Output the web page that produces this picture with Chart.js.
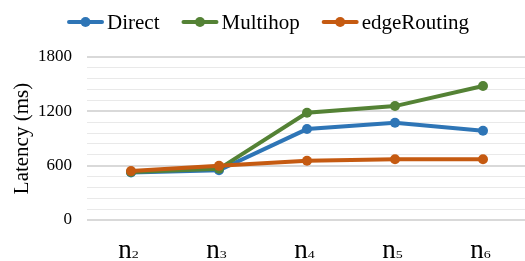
<!DOCTYPE html>
<html>
<head>
<meta charset="utf-8">
<script src="https://cdn.jsdelivr.net/npm/chart.js@4.4.1/dist/chart.umd.min.js"></script>
<style>
  html, body { margin: 0; padding: 0; background: #fff; overflow: hidden; }
  #wrap { width: 532px; height: 261px; }
</style>
</head>
<body>
<div id="wrap"><canvas id="latencyChart" width="532" height="261"></canvas></div>
<script>
// Data
const categories = ['n2', 'n3', 'n4', 'n5', 'n6'];
const directValues = [525, 550, 1004, 1074, 986];
const multihopValues = [530, 565, 1184, 1258, 1479];
const edgeRoutingValues = [540, 598, 655, 670, 670];
const yTicks = [0, 600, 1200, 1800];

const serif = '"Liberation Serif", "Times New Roman", serif';

// Legend drawn by hand so the line-with-dot markers match the original
const legendPlugin = {
    id: 'lineLegend',
    afterDraw(chart) {
        const ctx = chart.ctx;
        const sets = chart.data.datasets;
        const iconW = 37, gapText = 3, gapItem = 22, cy = 22;
        ctx.save();
        ctx.font = '21px ' + serif;
        const widths = sets.map(ds => iconW + gapText + ctx.measureText(ds.label).width);
        const total = widths.reduce((a, b) => a + b, 0) + gapItem * (sets.length - 1);
        let x = 268 - total / 2;
        sets.forEach((ds, i) => {
            ctx.strokeStyle = ds.borderColor;
            ctx.lineWidth = 4;
            ctx.lineCap = 'round';
            ctx.beginPath();
            ctx.moveTo(x + 2, cy);
            ctx.lineTo(x + iconW - 2, cy);
            ctx.stroke();
            ctx.fillStyle = ds.borderColor;
            ctx.beginPath();
            ctx.arc(x + iconW / 2, cy, 5, 0, Math.PI * 2);
            ctx.fill();
            ctx.fillStyle = '#000';
            ctx.textBaseline = 'middle';
            ctx.textAlign = 'left';
            ctx.fillText(ds.label, x + iconW + gapText, cy + 1);
            x += widths[i] + gapItem;
        });
        ctx.restore();
    }
};

// Category labels like n₂ : big "n" with a small squat subscript digit
const subLabelPlugin = {
    id: 'subLabels',
    afterDraw(chart) {
        const ctx = chart.ctx;
        const xScale = chart.scales.x;
        const baseY = 258;
        ctx.save();
        ctx.fillStyle = '#000';
        ctx.textBaseline = 'alphabetic';
        ctx.textAlign = 'left';
        chart.data.labels.forEach((lab, i) => {
            const main = lab.charAt(0);
            const sub = lab.slice(1);
            ctx.font = '27px ' + serif;
            const mainW = ctx.measureText(main).width;
            ctx.font = '10px ' + serif;
            const subW = ctx.measureText(sub).width * 1.4;
            const px = xScale.getPixelForValue(i);
            const left = px - (mainW + subW) / 2 - 2.5;
            ctx.font = '27px ' + serif;
            ctx.fillText(main, left, baseY);
            ctx.save();
            ctx.translate(left + mainW, baseY);
            ctx.scale(1.4, 1);
            ctx.font = '10px ' + serif;
            ctx.fillText(sub, 0, 0);
            ctx.restore();
        });
        ctx.restore();
    }
};

function lineSet(label, data, color, order) {
    return {
        label: label,
        data: data,
        borderColor: color,
        backgroundColor: color,
        borderWidth: 4,
        pointRadius: 5,
        pointHoverRadius: 5,
        pointBorderWidth: 0,
        tension: 0,
        order: order
    };
}

new Chart(document.getElementById('latencyChart'), {
    type: 'line',
    data: {
        labels: categories,
        datasets: [
            lineSet('Direct', directValues, '#2E75B6', 2),
            lineSet('Multihop', multihopValues, '#548235', 1),
            lineSet('edgeRouting', edgeRoutingValues, '#C55A11', 0)
        ]
    },
    options: {
        responsive: false,
        animation: false,
        layout: { padding: { top: 57, left: 0, right: 2, bottom: 0 } },
        plugins: {
            legend: { display: false },
            tooltip: { enabled: false }
        },
        scales: {
            x: {
                offset: true,
                grid: { display: false, drawTicks: false },
                border: { display: false },
                ticks: { display: false },
                afterFit: scale => { scale.height = 41; }
            },
            y: {
                min: 0,
                max: yTicks[yTicks.length - 1],
                border: { display: false },
                afterFit: scale => { scale.width = 87; },
                grid: {
                    drawTicks: false,
                    color: c => (yTicks.includes(c.tick.value) ? '#d9d9d9' : '#e9e9e9'),
                    lineWidth: c => (yTicks.includes(c.tick.value) ? 2 : 1)
                },
                ticks: {
                    stepSize: 120,
                    autoSkip: false,
                    padding: 15,
                    color: '#000',
                    font: { family: serif, size: 17 },
                    callback: v => (yTicks.includes(v) ? String(v) : '')
                },
                title: {
                    display: true,
                    text: 'Latency (ms)',
                    color: '#000',
                    font: { family: serif, size: 21 },
                    padding: { top: 10, bottom: 3 }
                }
            }
        }
    },
    plugins: [legendPlugin, subLabelPlugin]
});
</script>
</body>
</html>
